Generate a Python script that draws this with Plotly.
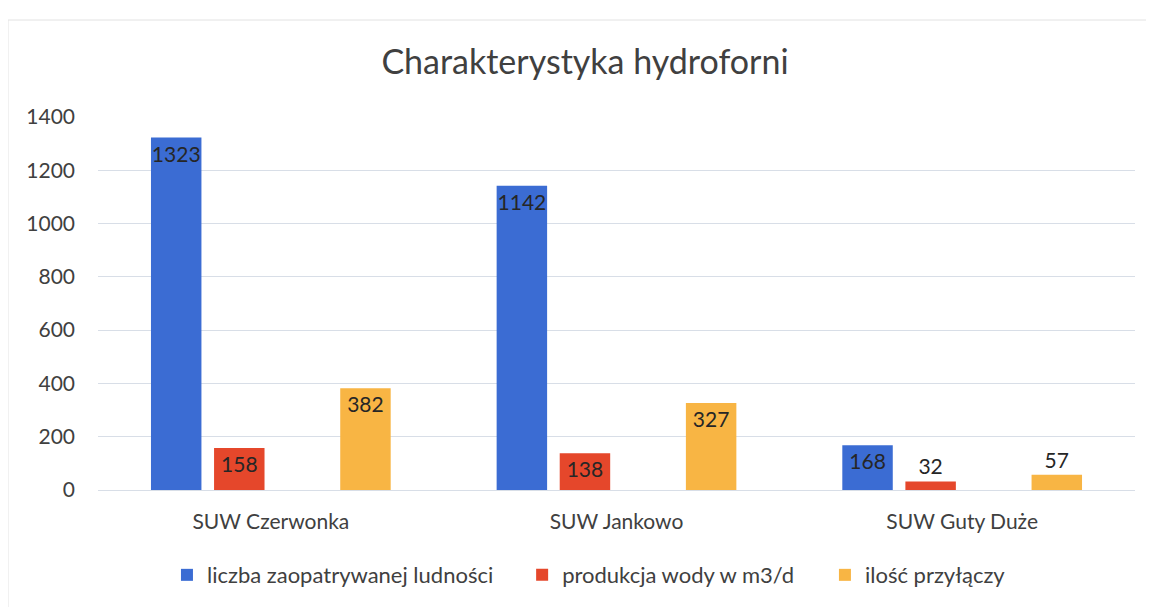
import plotly.graph_objects as go

kategorie = ["SUW Czerwonka", "SUW Jankowo", "SUW Guty Duże"]
ludnosc = [1323, 1142, 168]
produkcja = [158, 138, 32]
puste = [None, None, None]
przylacza = [382, 327, 57]
y_ticks = [0, 200, 400, 600, 800, 1000, 1200, 1400]

nazwy = ["liczba zaopatrywanej ludności", "produkcja wody w m3/d", "", "ilość przyłączy"]
kolory = ["#3B6CD3", "#E5472B", "#FFFFFF", "#F8B544"]
serie = [ludnosc, produkcja, puste, przylacza]
legendy = ["legend", "legend2", None, "legend3"]

FONT = "Lato"
TXT = "#404040"

fig = go.Figure()
for nazwa, kolor, wartosci, leg in zip(nazwy, kolory, serie, legendy):
    fig.add_trace(go.Bar(
        x=kategorie, y=wartosci, name=nazwa,
        marker=dict(color=kolor, line=dict(width=0)),
        text=[("" if v is None else str(v)) for v in wartosci],
        textposition="auto", insidetextanchor="end", textangle=0,
        constraintext="none", cliponaxis=False,
        textfont=dict(family=FONT, size=21, color="#262626"),
        insidetextfont=dict(family=FONT, size=21, color="#262626"),
        outsidetextfont=dict(family=FONT, size=21, color="#262626"),
        showlegend=bool(nazwa),
        legend=leg if leg else "legend",
        hoverinfo="skip" if not nazwa else None,
    ))

leg_style = dict(orientation="h", xanchor="left", y=-0.228, yanchor="middle",
                 font=dict(family=FONT, size=22, color=TXT), bgcolor="rgba(0,0,0,0)")

fig.update_layout(
    width=1154, height=607,
    margin=dict(l=90, r=27, t=109, b=125),
    paper_bgcolor="white", plot_bgcolor="white",
    barmode="group", bargap=0.27, bargroupgap=0.2,
    font=dict(family=FONT, color=TXT),
    title=dict(text="Charakterystyka hydroforni", x=0.5, xanchor="center",
               y=1 - 54 / 607, yanchor="middle", yref="container",
               font=dict(family=FONT, size=34, color=TXT)),
    legend=dict(x=0.0665, **leg_style),
    legend2=dict(x=0.409, **leg_style),
    legend3=dict(x=0.701, **leg_style),
    xaxis=dict(showgrid=False, showline=False, ticks="",
               tickfont=dict(family=FONT, size=21, color=TXT), ticklabelstandoff=17),
    yaxis=dict(range=[0, 1400], tickvals=y_ticks, showgrid=True, gridcolor="#D8DEE7",
               gridwidth=1, zeroline=True, zerolinecolor="#D8DEE7", zerolinewidth=1,
               showline=False, ticks="", ticklabelstandoff=22,
               tickfont=dict(family=FONT, size=21, color=TXT)),
    shapes=[dict(type="rect", xref="paper", yref="paper", x0=-0.0868, x1=1.0125,
                 y0=-0.37, y1=1.26, line=dict(color="#E3E3E3", width=1))],
)

fig.write_html("out.html")
